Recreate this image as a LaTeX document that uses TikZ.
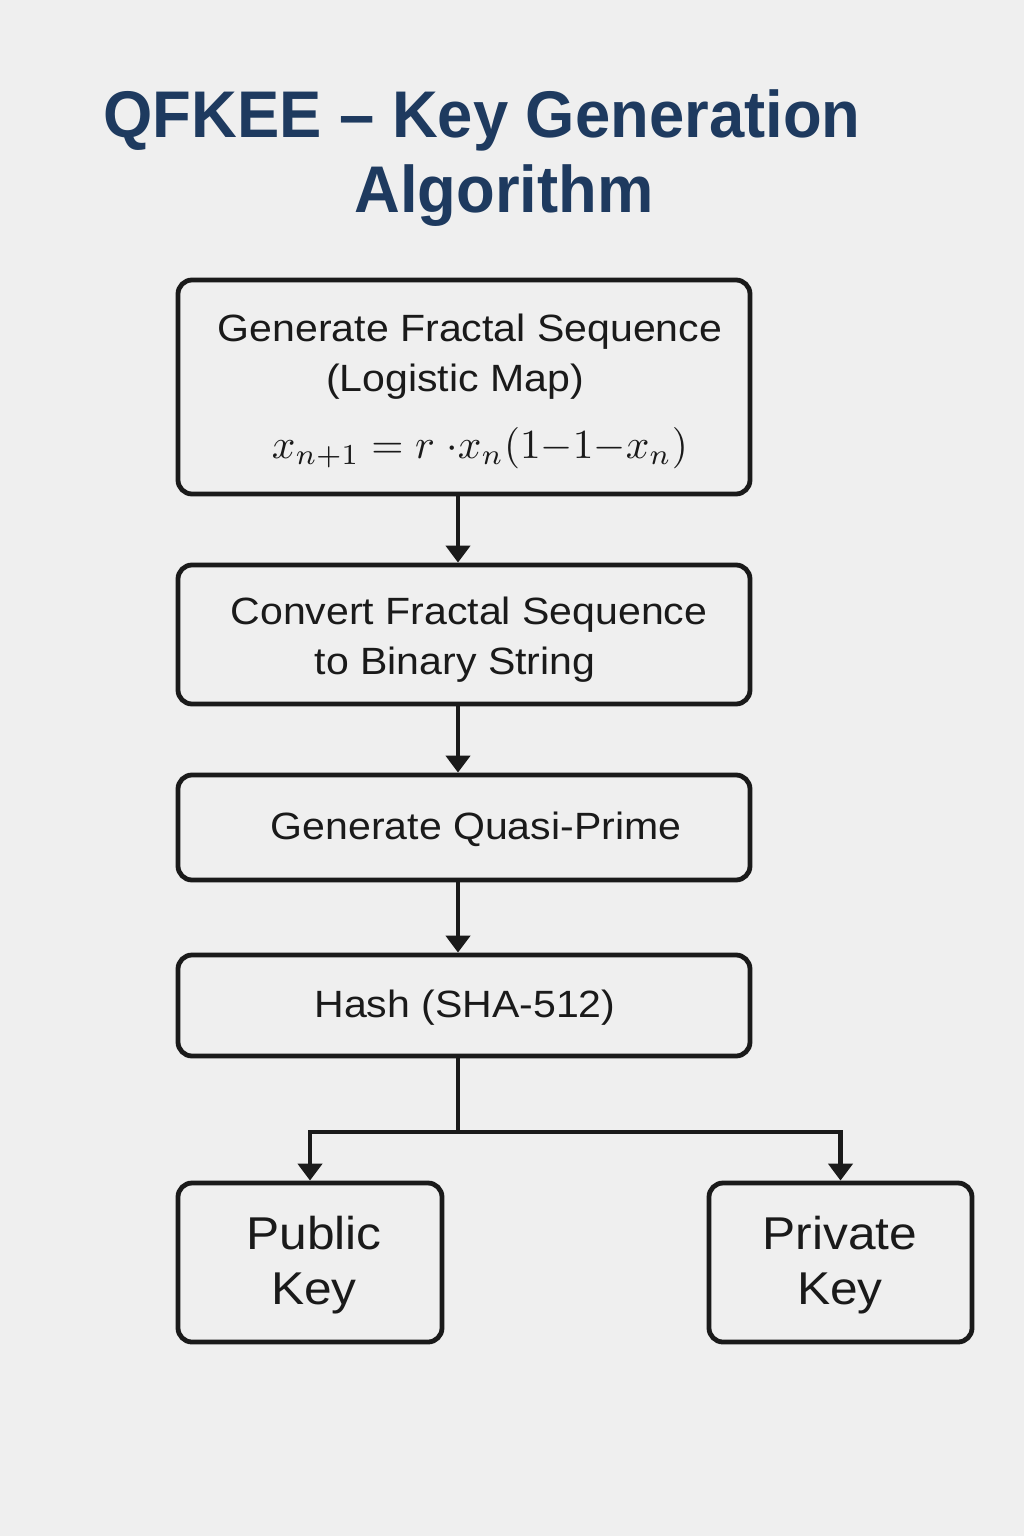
\documentclass[tikz,border=0pt]{standalone}
\usepackage{fontspec}
\usepackage{graphicx}
\setmainfont{Liberation Sans}
\newfontfamily\bodyfont[FakeStretch=1.08]{Liberation Sans}
\newfontfamily\headfont[FakeStretch=0.96]{Liberation Sans}
\usetikzlibrary{arrows.meta,calc}
\definecolor{bgc}{HTML}{EFEFEF}
\definecolor{navy}{HTML}{1E3A5F}
\definecolor{ink}{HTML}{1A1A1A}
\tikzset{
  stepbox/.style={draw=ink, line width=4.8pt, rounded corners=14pt, fill=none, inner sep=0pt},
  bodytext/.style={text=ink, anchor=base, font=\bodyfont\fontsize{38}{46}\selectfont, inner sep=0pt},
  keytext/.style={text=ink, anchor=base, font=\bodyfont\fontsize{46}{54}\selectfont, inner sep=0pt},
  titletext/.style={text=navy, anchor=base, font=\headfont\fontsize{66}{76}\selectfont\bfseries, inner sep=0pt},
  conn/.style={draw=ink, line width=4.5pt},
  arr/.style={conn, -{Triangle[length=17pt,width=24pt]}}
}
\begin{document}
\begin{tikzpicture}[x=1pt,y=-1pt]
\fill[bgc] (0,0) rectangle (1024,1536);
\useasboundingbox (0,0) rectangle (1024,1536);
% title
\node[titletext] (t1) at (482,138) {QFKEE – Key Generation};
\node[titletext] (t2) at (504,212) {Algorithm};
% boxes
\node[stepbox, minimum width=572pt, minimum height=214pt] (b1) at (464,387) {};
\node[stepbox, minimum width=572pt, minimum height=139pt] (b2) at (464,634.5) {};
\node[stepbox, minimum width=572pt, minimum height=105pt] (b3) at (464,827.5) {};
\node[stepbox, minimum width=572pt, minimum height=101pt] (b4) at (464,1005.5) {};
\node[stepbox, minimum width=264pt, minimum height=159pt] (pub) at (310,1262.5) {};
\node[stepbox, minimum width=263pt, minimum height=159pt] (priv) at (840.5,1262.5) {};
% texts
\node[bodytext] (l1a) at (470,341) {Generate Fractal Sequence};
\node[bodytext] (l1b) at (455,391) {(Logistic Map)};
\node[text=ink, anchor=base, inner sep=0pt] (l1c) at (480,458) {\resizebox{416pt}{!}{$x_{n+1} = r\;{\cdot}x_n(1{-}1{-}x_n)$}};
\node[bodytext] (l2a) at (469,624) {Convert Fractal Sequence};
\node[bodytext] (l2b) at (455,674) {to Binary String};
\node[bodytext] (l3) at (476,839) {Generate Quasi-Prime};
\node[bodytext] (l4) at (465,1017) {Hash (SHA-512)};
\node[keytext] (pa) at (314,1249) {Public};
\node[keytext] (pb) at (314,1304) {Key};
\node[keytext] (qa) at (840,1249) {Private};
\node[keytext] (qb) at (840,1304) {Key};
% connectors
\coordinate (ax) at (458,0);
\coordinate (split) at (458,1132);
\draw[arr] (b1.south -| ax) -- (b2.north -| ax);
\draw[arr] (b2.south -| ax) -- (b3.north -| ax);
\draw[arr] (b3.south -| ax) -- (b4.north -| ax);
\draw[conn] (b4.south -| ax) -- (split);
\draw[arr] (split) -| (pub.north);
\draw[arr] (split) -| (priv.north);
\end{tikzpicture}
\end{document}
